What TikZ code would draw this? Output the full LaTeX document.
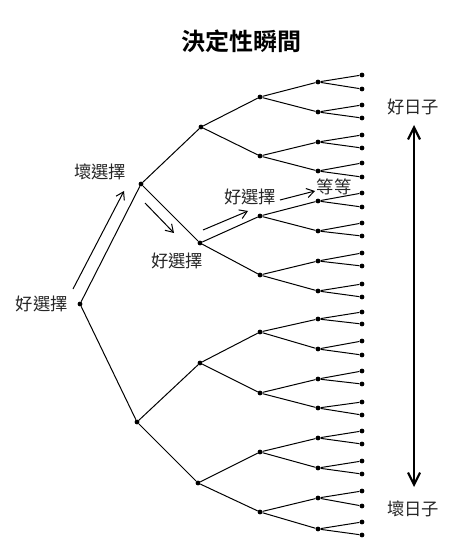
\documentclass[tikz,border=0pt]{standalone}
\usepackage{fontspec}
\newfontfamily\cjk{Noto Sans CJK TC}[BoldFont={Noto Sans CJK TC Bold}]
\usetikzlibrary{arrows.meta}
\begin{document}
\begin{tikzpicture}[x=0.75pt,y=-0.75pt,
  dot/.style={circle,fill=black,inner sep=0pt,minimum size=3.6pt},
  br/.style={line width=0.75pt},
  lbl/.style={font=\cjk\fontsize{13pt}{13pt}\selectfont,inner sep=1pt,text=black!85},
  ttl/.style={font=\cjk\bfseries\fontsize{18pt}{18pt}\selectfont,inner sep=0pt},
  arr/.style={line width=0.75pt,-{Straight Barb[length=5.5pt,width=7pt]}},
  bigarr/.style={line width=1.6pt,{Straight Barb[length=9pt,width=9pt]}-{Straight Barb[length=9pt,width=9pt]}}]
\useasboundingbox (0,0) rectangle (460,552);
% title
\node[ttl] (title) at (241,41) {決定性瞬間};
% tree nodes
\node[dot] (r) at (80,304) {};
\node[dot] (a1) at (141,184) {};
\node[dot] (a2) at (137,422) {};
\node[dot] (b1) at (201,127) {};
\node[dot] (b2) at (200,243) {};
\node[dot] (b3) at (200,363) {};
\node[dot] (b4) at (198,483) {};
\foreach \i/\y in {1/97,2/156,3/216,4/275,5/332,6/393,7/452,8/512}
  \node[dot] (c\i) at (260,\y) {};
\foreach \i/\y in {1/82,2/112,3/142,4/171,5/201,6/231,7/261,8/291,9/319,10/349,11/379,12/408,13/438,14/468,15/498,16/529}
  \node[dot] (d\i) at (318,\y) {};
\foreach \i/\y in {1/75,2/89,3/105,4/118,5/135,6/148,7/163,8/177,9/193,10/207,11/223,12/236,13/253,14/266,15/284,16/297,17/312,18/324,19/341,20/355,21/371,22/384,23/402,24/415,25/431,26/444,27/461,28/474,29/491,30/506,31/522,32/535}
  \node[dot] (e\i) at (362,\y) {};
% branches
\draw[br] (r) -- (a1);
\draw[br] (r) -- (a2);
\draw[br] (a1) -- (b1);
\draw[br] (a1) -- (b2);
\draw[br] (a2) -- (b3);
\draw[br] (a2) -- (b4);
\foreach \p/\c in {b1/c1,b1/c2,b2/c3,b2/c4,b3/c5,b3/c6,b4/c7,b4/c8}
  \draw[br] (\p) -- (\c);
\foreach \i in {1,...,8}{
  \pgfmathtruncatemacro{\ca}{2*\i-1}
  \pgfmathtruncatemacro{\cb}{2*\i}
  \draw[br] (c\i) -- (d\ca);
  \draw[br] (c\i) -- (d\cb);
}
\foreach \i in {1,...,16}{
  \pgfmathtruncatemacro{\ea}{2*\i-1}
  \pgfmathtruncatemacro{\eb}{2*\i}
  \draw[br] (d\i) -- (e\ea);
  \draw[br] (d\i) -- (e\eb);
}
% labels
\node[lbl] (l0) at (42,304) {好選擇};
\node[lbl] (l1) at (100,172) {壞選擇};
\node[lbl] (l2) at (177,261) {好選擇};
\node[lbl] (l3) at (250,197) {好選擇};
\node[lbl] (etc) at (334,187) {等等};
\node[lbl] (good) at (413,107) {好日子};
\node[lbl] (bad) at (413,509) {壞日子};
% choice arrows
\coordinate (s1) at (73,289);
\coordinate (t1) at (124,191);
\coordinate (s2) at (145,203);
\coordinate (t2) at (174,233);
\coordinate (s3) at (203,230);
\coordinate (t3) at (248,211);
\coordinate (s4) at (280,200);
\coordinate (t4) at (315,191);
\draw[arr] (s1) -- (t1);
\draw[arr] (s2) -- (t2);
\draw[arr] (s3) -- (t3);
\draw[arr] (s4) -- (t4);
% vertical arrow
\coordinate (vt) at (414,125);
\coordinate (vb) at (414,487);
\draw[bigarr] (vb) -- (vt);
\end{tikzpicture}
\end{document}
